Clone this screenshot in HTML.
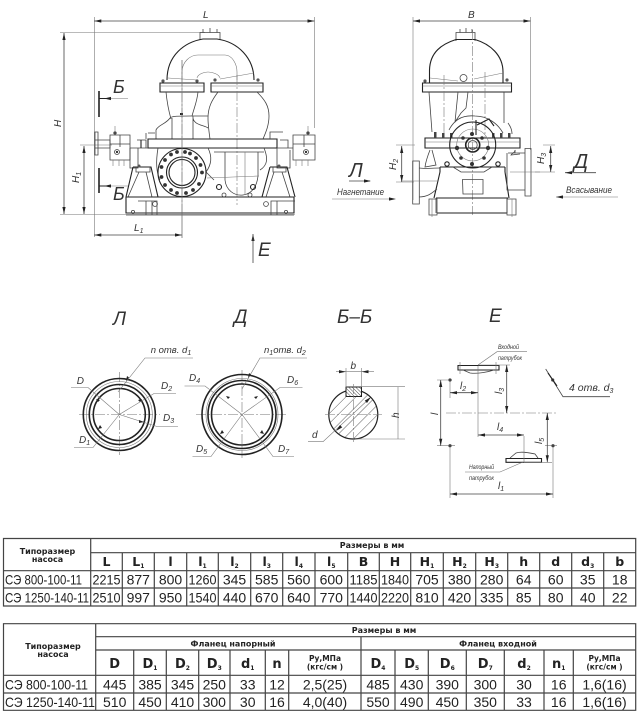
<!DOCTYPE html>
<html><head><meta charset="utf-8"><style>
html,body{margin:0;padding:0;background:#fff;width:640px;height:713px;overflow:hidden}
svg{display:block;position:absolute;left:0;top:0;filter:blur(.3px)}
.t{fill:none;stroke:#777;stroke-width:.6}
.m{fill:none;stroke:#444;stroke-width:.8}
.k{fill:none;stroke:#222;stroke-width:1.1}
.h{fill:none;stroke:#222;stroke-width:1.6}
.c{fill:none;stroke:#777;stroke-width:.6;stroke-dasharray:10 2 2 2}
.a{fill:#222;stroke:none}
text{font-family:"Liberation Sans","Noto Sans CJK SC",sans-serif;fill:#333}
.i{font-style:italic}
.n{font-size:14px;text-anchor:middle;fill:#222}
.b{font-family:"DejaVu Sans","Liberation Sans",sans-serif;font-weight:bold;text-anchor:middle;fill:#222}
.tl{stroke:#444;stroke-width:1.2;fill:none}
</style></head><body>
<svg width="640" height="713" viewBox="0 0 640 713" xmlns="http://www.w3.org/2000/svg">
<defs>
<g id="ah"><path class="a" d="M0 0L7 -1.6L7 1.6Z"/></g>
<g id="bolt"><circle r="1.9" fill="#333"/></g>
<pattern id="hat" width="7" height="7" patternUnits="userSpaceOnUse" patternTransform="rotate(45)"><line x1="0" y1="0" x2="0" y2="7" stroke="#333" stroke-width=".8"/></pattern>
<pattern id="hat2" width="2.5" height="2.5" patternUnits="userSpaceOnUse" patternTransform="rotate(-45)"><line x1="0" y1="0" x2="0" y2="2.5" stroke="#444" stroke-width=".9"/></pattern>
</defs>

<!-- FRONT VIEW dims -->
<path class="t" d="M94.3 17V237M314.5 17V128M60 32.5H205M60 214.5H295M80 145H112M182 205V238"/>
<path class="m" d="M94.3 21H314.5M64 33V214M84 146V214M94.3 235H182"/>
<use href="#ah" x="94.3" y="21"/><use href="#ah" transform="translate(314.5 21) rotate(180)"/>
<use href="#ah" transform="translate(64 33) rotate(90)"/><use href="#ah" transform="translate(64 214) rotate(-90)"/>
<use href="#ah" transform="translate(84 146) rotate(90)"/><use href="#ah" transform="translate(84 214) rotate(-90)"/>
<use href="#ah" x="94.3" y="235"/><use href="#ah" transform="translate(182 235) rotate(180)"/>
<text class="i" x="203" y="18" font-size="10">L</text>
<text class="i" font-size="10" transform="translate(61 127) rotate(-90)">H</text>
<text class="i" font-size="10" transform="translate(79 183) rotate(-90)">H<tspan font-size="7" dy="2">1</tspan></text>
<text class="i" x="134" y="231" font-size="10">L<tspan font-size="7" dy="2">1</tspan></text>

<!-- section marks -->
<path class="h" d="M99 91V117M99 168V193"/>
<path class="k" d="M99 98.5H110M99 186H110"/>
<path class="t" d="M110 98.5H128M110 186H128"/>
<use href="#ah" x="104" y="98.5"/><use href="#ah" x="104" y="186"/>
<text class="i" x="113" y="93" font-size="18" fill="#222">Б</text>
<text class="i" x="113" y="200" font-size="18" fill="#222">Б</text>
<use href="#ah" transform="translate(253 234) rotate(90)"/>
<path class="m" d="M253 234V263"/>
<text class="i" x="258" y="256" font-size="19" fill="#222">Е</text>

<!-- elbow -->
<path class="m" d="M200 40V32.500H220V40M203 32.500V29M210 32.500V28M217 32.500V29"/>
<path class="k" d="M167 80C167 55 185 42 203 39H217C238 42 254 58 254 80"/>
<path class="t" d="M182 80V72C182 62 190 55 198 55H225C232 55 237 64 237 72V80"/>
<path class="t" d="M197 78C198 74 204 72 208 72S219 74 220 78"/>
<path class="t" d="M168 78L197 80M220 79L254 73"/>
<!-- flanges -->
<path class="k" d="M160 83H204V92H160ZM211 83H263V92H211Z"/>
<path class="t" d="M160 86H204M211 86H263"/>
<circle cx="163" cy="81" r="1.6" fill="#555"/><circle cx="197" cy="81" r="1.6" fill="#555"/><circle cx="215" cy="80" r="1.6" fill="#555"/><circle cx="258" cy="80" r="1.6" fill="#555"/>
<path class="c" d="M182 60V205M237 75V205"/>
<!-- necks / bodies -->
<path class="m" d="M166 92C167 102 169 112 171 119M198 92C197 102 194 108 192 116"/>
<path class="m" d="M218 92C212 100 208 107 208 118C208 125 209 132 210 139M257 92C265 100 269 106 269 116C269 125 266 132 263 139"/>
<path class="m" d="M156 139V130C158 125 166 124 170 118C172 116 178 116 190 116H208M172 139V118M193 139V118M193 116C192 125 204 125 208 128"/>
<path class="a" d="M180 115h3v-2h-3z"/>
<!-- casing joint -->
<path class="k" d="M148 139H277V148H148Z"/>
<path class="m" d="M146 133V139M283 132H270V139M148 133H155"/>
<!-- shaft & bearings left -->
<path class="m" d="M110 135H130V160H110ZM110 144H130M120 135V147"/>
<path class="m" d="M95 140H110V148H95ZM95 132H98V155H95Z"/>
<path class="m" d="M130 148H148M130 148V168H131M130 168H138V148"/>
<path class="m" d="M137 140H146V148"/>
<path class="k" d="M141 140V148"/>
<circle cx="117" cy="152" r="2.500" class="m"/><circle cx="117" cy="152" r="1.2" fill="#333"/>
<circle cx="115" cy="133" r="1.6" fill="#333"/>
<path class="t" d="M115 126V135M113 160V166M119 160V166M124 160V166"/>
<!-- right -->
<path class="m" d="M293 135H315V160H293ZM293 144H315M304 135V147"/>
<path class="m" d="M277 148H293M277 148V168H290V150"/>
<path class="m" d="M280 140H288V148"/>
<circle cx="306" cy="152" r="2.500" class="m"/><circle cx="306" cy="152" r="1.2" fill="#333"/>
<circle cx="308" cy="133" r="1.6" fill="#333"/>
<path class="t" d="M308 126V135M296 160V166M302 160V166M308 160V166"/>

<!-- volutes -->
<path class="m" d="M158 148C156 160 156 172 160 180M208 148C212 156 212 164 206 172L214 180"/>
<path class="m" d="M225 152V180C226 190 234 196 243 195C252 194 257 186 258 176V152M264 148C268 158 268 165 260 170M214 152H264"/>
<path class="t" d="M245 152V195M207 178L259 176"/>
<circle cx="219" cy="187" r="2.500" class="k"/><circle cx="253" cy="187" r="2.500" class="k"/><circle cx="224" cy="195" r="2" class="m"/><circle cx="250" cy="195" r="2" class="m"/>
<!-- large flange -->
<circle cx="182" cy="172.500" r="24" class="k" fill="#fff"/>
<circle cx="182" cy="172.500" r="15.500" class="k"/>
<circle cx="182" cy="172.500" r="13" class="k"/>
<g>
<use href="#bolt" x="202" y="172.500"/><use href="#bolt" x="200.500" y="165"/><use href="#bolt" x="196" y="158"/><use href="#bolt" x="190" y="153.500"/><use href="#bolt" x="185" y="152"/><use href="#bolt" x="177" y="152"/><use href="#bolt" x="171" y="154.500"/><use href="#bolt" x="165" y="160"/><use href="#bolt" x="161.500" y="167"/><use href="#bolt" x="161.500" y="177"/><use href="#bolt" x="165" y="185"/><use href="#bolt" x="171" y="190"/><use href="#bolt" x="177" y="193"/><use href="#bolt" x="186" y="193"/><use href="#bolt" x="193" y="190"/><use href="#bolt" x="199" y="184"/>
</g>
<!-- feet -->
<path class="k" d="M133 167H151L158 197M133 167L126 197"/>
<path class="m" d="M136 167V172H150V167M128 197L139 172M152 197L146 172"/>
<path class="k" d="M270 167H287L295 197M270 167L262 197"/>
<path class="m" d="M273 167V172H286V167M266 197L274 172M290 197L282 172"/>
<circle cx="139" cy="166" r="1.500" fill="#555"/><circle cx="279" cy="166" r="1.500" fill="#555"/>
<!-- base -->
<path class="k" d="M126 197H294M126 197V213H294V197"/>
<path class="m" d="M126 215H294"/>
<path class="m" d="M138 201H157V215M146 201V215M152 201V215M295 201H271V215M277 201V215"/>
<circle cx="155" cy="204" r="2.400" class="m"/><circle cx="266" cy="204" r="2.400" class="m"/>
<circle cx="133" cy="212" r="1.600" class="m"/><circle cx="286" cy="212" r="1.600" class="m"/>
<path class="t" d="M182 60V238"/>

<!-- SIDE VIEW -->
<path class="t" d="M413 17V200M530.500 17V150M396 145H415M543 145H555M396 182H414M535 172H555"/>
<path class="m" d="M413 21H530.500M401.700 146V182M550.700 146V172"/>
<use href="#ah" x="413" y="21"/><use href="#ah" transform="translate(530.500 21) rotate(180)"/>
<use href="#ah" transform="translate(401.700 146) rotate(90)"/><use href="#ah" transform="translate(401.700 182) rotate(-90)"/>
<use href="#ah" transform="translate(550.700 146) rotate(90)"/><use href="#ah" transform="translate(550.700 172) rotate(-90)"/>
<text class="i" x="468" y="18" font-size="10">B</text>
<text class="i" font-size="10" transform="translate(396 170) rotate(-90)">H<tspan font-size="7" dy="2">2</tspan></text>
<text class="i" font-size="10" transform="translate(544 164) rotate(-90)">H<tspan font-size="7" dy="2">3</tspan></text>
<path class="m" d="M456 41V32.500H475V41M460 32.500V29M466 32.500V28M472 32.500V29"/>
<path class="k" d="M429.500 83V70C430 52 442 44 456 39.500H475C490 44 503 55 503 72V83"/>
<path class="t" d="M430 78L458 81M474 79L503 73"/>
<circle cx="463.500" cy="78" r="3.500" class="m"/>
<path class="k" d="M422.500 83H511.500V92H422.500Z"/>
<path class="t" d="M422.500 86H511.500"/>
<circle cx="425" cy="81" r="1.600" fill="#555"/><circle cx="507" cy="80" r="1.600" fill="#555"/>
<path class="m" d="M429 92L432 132M504 92V123"/>
<path class="m" d="M458 92L455 122L461 113L466 108L468 92"/>
<path class="c" d="M444 75V138M485 72V138M472.700 30V215"/>
<path class="m" d="M449 130C455 118 465 115 475 116C488 116 498 124 503 133M508 123C511 127 512 130 512 134"/>
<path class="k" d="M425 138H520V148H425Z"/>
<path class="t" d="M425 142H520"/>
<g fill="#444"><rect x="434" y="132" width="2.500" height="6"/><rect x="442" y="133" width="2.500" height="5"/><rect x="450" y="133" width="2.500" height="5"/><rect x="492" y="133" width="2.500" height="5"/><rect x="500" y="133" width="2.500" height="5"/><rect x="508" y="133" width="2.500" height="5"/></g>
<circle cx="472.700" cy="145" r="23" class="k" fill="#fff"/>
<circle cx="472.700" cy="145" r="16" class="t"/>
<circle cx="472.700" cy="145" r="7" class="h"/>
<circle cx="472.700" cy="145" r="4.500" class="m"/>
<path class="k" d="M476 120V135M477 125L489 119L494 126"/>
<g fill="#333"><circle cx="463" cy="138" r="1.800"/><circle cx="482" cy="138" r="1.800"/><circle cx="457" cy="148" r="2.200"/><circle cx="488" cy="148" r="2.200"/><circle cx="461" cy="158" r="1.800"/><circle cx="484" cy="158" r="1.800"/><circle cx="472" cy="134" r="2"/><circle cx="472" cy="164" r="2"/></g>
<path class="m" d="M430 150C428 155 426 160 425 167L436 165L432 150M515 150C516 152 512 153 511 155L520 154"/>
<!-- base -->
<path class="k" d="M440 167H505M440 167V172M505 167V172M440 172L434 198M505 172L509 198M436 198H508M437 213H507"/>
<path class="m" d="M453 167L461 172H484L492 167"/>
<circle cx="447" cy="164" r="2.200" class="k"/><circle cx="498" cy="164" r="2.200" class="k"/>
<path class="m" d="M462.500 179.500H483V194H463Z"/>
<path class="m" d="M436 198V213M507 198V213"/>
<path class="m" d="M429 199H437V215H429ZM507 199H516V215H507Z"/>
<path class="t" d="M432 199V217M512 199V217"/>
<!-- side nozzles -->
<path class="m" d="M412.700 161H419.300V204H412.700ZM525 148.500H531V196H525Z"/>
<path class="m" d="M419 168C425 169 432 168 440 168M419 197C428 197 432 193 437 189M507 153V190H525M508 153H525M515 150V153"/>
<path class="t" d="M402 181H438M510 172H540"/>
<!-- flow labels -->
<text class="i" x="349" y="177" font-size="20" fill="#222">Л</text>
<path class="m" d="M349 181H370"/><use href="#ah" transform="translate(371 181) rotate(180)"/>
<text class="i" x="337" y="195" font-size="9.500" textLength="47" lengthAdjust="spacingAndGlyphs">Нагнетание</text>
<path class="t" d="M332 199H394"/><use href="#ah" transform="translate(396 199) rotate(180)"/>
<text class="i" x="574" y="168" font-size="20" fill="#222">Д</text>
<path class="m" d="M565 172.700H596"/><use href="#ah" x="565" y="172.700"/>
<text class="i" x="566" y="193" font-size="9.500" textLength="46" lengthAdjust="spacingAndGlyphs">Всасывание</text>
<path class="t" d="M556 197H618"/><use href="#ah" x="556" y="197"/>

<!-- VIEW TITLES -->
<text class="i" x="113" y="325" font-size="19" fill="#222">Л</text>
<text class="i" x="234" y="323" font-size="19" fill="#222">Д</text>
<text class="i" x="337" y="323" font-size="19" fill="#222">Б–Б</text>
<text class="i" x="489" y="322" font-size="19" fill="#222">Е</text>

<!-- CIRCLE L -->
<path class="c" d="M79 414.500H160M119.300 372V455"/>
<circle cx="119.300" cy="414.500" r="36" class="h"/>
<circle cx="119.300" cy="414.500" r="33" class="t"/>
<circle cx="119.300" cy="414.500" r="30" class="h"/>
<circle cx="119.300" cy="414.500" r="26" class="h"/>
<path class="t" d="M118 392L145 358H193M71 387.500H88L119.300 414.500M119.300 414.500L154 393.500H176M119.300 414.500L157 426.500H178M74 447.500H93L119.300 414.500"/>
<g fill="#222"><path d="M126 381l1-5 2 1.500z"/><path d="M96 399l4 1-2 2z"/><path d="M142 399l-4 1 2 2z"/><path d="M144 422l-5-2 0 3z"/><path d="M98 429l4-1-2-3z"/></g>
<text class="i" x="150.700" y="353" font-size="9.500">n отв. d<tspan font-size="7" dy="2">1</tspan></text>
<text class="i" x="76.700" y="384" font-size="10">D</text>
<text class="i" x="161" y="389" font-size="10">D<tspan font-size="7" dy="2">2</tspan></text>
<text class="i" x="163" y="421" font-size="10">D<tspan font-size="7" dy="2">3</tspan></text>
<text class="i" x="79" y="443" font-size="10">D<tspan font-size="7" dy="2">1</tspan></text>

<!-- CIRCLE D -->
<path class="c" d="M196 414.500H288M242 370V458"/>
<circle cx="242" cy="414.500" r="40" class="h"/>
<circle cx="242" cy="414.500" r="36" class="t"/>
<circle cx="242" cy="414.500" r="34" class="h"/>
<circle cx="242" cy="414.500" r="30.500" class="h"/>
<path class="t" d="M242 389L260 358H307M184.500 386H205L242 414.500M242 414.500L280 387.500H302.500M192.500 456.500H211L242 414.500M242 414.500L273 456.500H294"/>
<g fill="#222"><path d="M248 378l1-5 2 1.500z"/><path d="M226 396l4 1-2 2z"/><path d="M258 396l-4 1 2 2z"/><path d="M220 434l4-1-2-3z"/><path d="M264 434l-4-1 2-3z"/></g>
<text class="i" x="264" y="353" font-size="9.500">n<tspan font-size="7" dy="2">1</tspan><tspan dy="-2">отв. d</tspan><tspan font-size="7" dy="2">2</tspan></text>
<text class="i" x="189" y="381" font-size="10">D<tspan font-size="7" dy="2">4</tspan></text>
<text class="i" x="287" y="383" font-size="10">D<tspan font-size="7" dy="2">6</tspan></text>
<text class="i" x="196" y="452" font-size="10">D<tspan font-size="7" dy="2">5</tspan></text>
<text class="i" x="278" y="452" font-size="10">D<tspan font-size="7" dy="2">7</tspan></text>

<!-- B-B -->
<circle cx="353.300" cy="414.500" r="24.500" fill="url(#hat)" stroke="#222" stroke-width="1.200"/>
<rect x="346" y="387" width="15.500" height="9.500" fill="#fff"/>
<rect x="346" y="387" width="15.500" height="9.500" fill="url(#hat2)" stroke="#222" stroke-width="1"/>
<path class="c" d="M325 414.500H382M353.300 384V443"/>
<path class="t" d="M346 368V387M361.500 368V387M361.500 386.700H405M355 439H405M336 371.700H374"/>
<path class="t" d="M398 387V439M308 441.700H323L370 398"/>
<use href="#ah" x="361.500" y="371.700"/><use href="#ah" transform="translate(346 371.700) rotate(180)"/>
<use href="#ah" transform="translate(371 397) rotate(137)"/><use href="#ah" transform="translate(336 431) rotate(-43)"/>
<text class="i" x="350.500" y="369" font-size="10">b</text>
<text class="i" font-size="10" transform="translate(399 418) rotate(-90)">h</text>
<text class="i" x="312" y="438" font-size="10">d</text>

<!-- E plan -->
<path class="k" d="M458 365.500H499V370H458Z"/>
<path class="m" d="M463 370L470 373C478 374 488 372 494 370"/>
<path class="t" d="M460 362V374M496 362V374"/>
<path class="k" d="M506 458.500H541.500V462.300H506Z"/>
<path class="m" d="M510 458L516 453C522 451 530 453 535 454L538 458"/>
<path class="c" d="M446 413H557"/>
<path class="t" d="M478 366V437M524 436V463M450 380V398M450 446V498M553 446V498M437 380H452M437 445.700H455M478 365H510M524 462.300H552M545 445.700H557"/>
<path class="m" d="M440.700 380V445.700M450 392.700H478M506.700 365V413M478 435H524M547.300 413V462.300M450 494H553"/>
<use href="#ah" transform="translate(440.700 380) rotate(90)"/><use href="#ah" transform="translate(440.700 445.700) rotate(-90)"/>
<use href="#ah" x="450" y="392.700"/><use href="#ah" transform="translate(478 392.700) rotate(180)"/>
<use href="#ah" transform="translate(506.700 365) rotate(90)"/><use href="#ah" transform="translate(506.700 413) rotate(-90)"/>
<use href="#ah" x="478" y="435"/><use href="#ah" transform="translate(524 435) rotate(180)"/>
<use href="#ah" transform="translate(547.300 413) rotate(90)"/><use href="#ah" transform="translate(547.300 462.300) rotate(-90)"/>
<use href="#ah" x="450" y="494"/><use href="#ah" transform="translate(553 494) rotate(180)"/>
<circle cx="450" cy="380" r="1.600" fill="#444"/><circle cx="450" cy="445.700" r="1.600" fill="#444"/><circle cx="553" cy="445.700" r="1.600" fill="#444"/><circle cx="552.700" cy="380" r="1.600" fill="#444"/>
<path class="t" d="M478 365L497 351.700H527M465 472H500L523 462"/>
<path class="m" d="M545.700 369L563 396.700H610"/>
<path class="k" d="M548 373L557 386"/>
<text class="i" x="498" y="349" font-size="6.500" textLength="21" lengthAdjust="spacingAndGlyphs">Входной</text>
<text class="i" x="498" y="360" font-size="6.500" textLength="24" lengthAdjust="spacingAndGlyphs">патрубок</text>
<text class="i" x="469" y="469" font-size="6.500" textLength="25" lengthAdjust="spacingAndGlyphs">Напорный</text>
<text class="i" x="469" y="480" font-size="6.500" textLength="25" lengthAdjust="spacingAndGlyphs">патрубок</text>
<text class="i" font-size="10" transform="translate(438 415) rotate(-90)">l</text>
<text class="i" x="460" y="389" font-size="10">l<tspan font-size="7" dy="2">2</tspan></text>
<text class="i" font-size="10" transform="translate(502 394) rotate(-90)">l<tspan font-size="7" dy="2">3</tspan></text>
<text class="i" x="497" y="430" font-size="10">l<tspan font-size="7" dy="2">4</tspan></text>
<text class="i" font-size="10" transform="translate(542 444) rotate(-90)">l<tspan font-size="7" dy="2">5</tspan></text>
<text class="i" x="498" y="489" font-size="10">l<tspan font-size="7" dy="2">1</tspan></text>
<text class="i" x="569" y="391" font-size="10.500">4 отв. d<tspan font-size="7" dy="2">3</tspan></text>

<!-- TABLE 1 -->
<path class="tl" d="M3.500 538.500H635.700V606H3.500ZM90.700 552.700H635.700M3.500 570.700H635.700M3.500 588H635.700M90.700 538.500V606"/>
<path class="tl" d="M122.300 552.700V606M154.300 552.700V606M186.700 552.700V606M218.300 552.700V606M250.700 552.700V606M282.700 552.700V606M315 552.700V606M347.700 552.700V606M379.300 552.700V606M410.700 552.700V606M443.300 552.700V606M475.700 552.700V606M507.700 552.700V606M539.700 552.700V606M571.700 552.700V606M603.700 552.700V606"/>
<text class="b" x="47.500" y="554" font-size="8">Типоразмер</text>
<text class="b" x="47.500" y="562" font-size="8">насоса</text>
<text class="b" x="372" y="548" font-size="8">Размеры в мм</text>
<g>
<text class="b" x="106.500" y="566" font-size="12.500">L</text>
<text class="b" x="138.300" y="566" font-size="12.500">L<tspan font-size="6" dy="2">1</tspan></text>
<text class="b" x="170.500" y="566" font-size="12.500">l</text>
<text class="b" x="202.500" y="566" font-size="12.500">l<tspan font-size="6" dy="2">1</tspan></text>
<text class="b" x="234.500" y="566" font-size="12.500">l<tspan font-size="6" dy="2">2</tspan></text>
<text class="b" x="266.700" y="566" font-size="12.500">l<tspan font-size="6" dy="2">3</tspan></text>
<text class="b" x="298.800" y="566" font-size="12.500">l<tspan font-size="6" dy="2">4</tspan></text>
<text class="b" x="331.300" y="566" font-size="12.500">l<tspan font-size="6" dy="2">5</tspan></text>
<text class="b" x="363.500" y="566" font-size="12.500">B</text>
<text class="b" x="395" y="566" font-size="12.500">H</text>
<text class="b" x="427" y="566" font-size="12.500">H<tspan font-size="6" dy="2">1</tspan></text>
<text class="b" x="459.500" y="566" font-size="12.500">H<tspan font-size="6" dy="2">2</tspan></text>
<text class="b" x="491.700" y="566" font-size="12.500">H<tspan font-size="6" dy="2">3</tspan></text>
<text class="b" x="523.700" y="566" font-size="12.500">h</text>
<text class="b" x="555.700" y="566" font-size="12.500">d</text>
<text class="b" x="587.700" y="566" font-size="12.500">d<tspan font-size="6" dy="2">3</tspan></text>
<text class="b" x="619.700" y="566" font-size="12.500">b</text>
</g>
<text class="n" x="5" y="584.500" style="text-anchor:start" textLength="77" lengthAdjust="spacingAndGlyphs">СЭ 800-100-11</text>
<text class="n" x="5" y="602.500" style="text-anchor:start" textLength="84" lengthAdjust="spacingAndGlyphs">СЭ 1250-140-11</text>
<g>
<text class="n" x="106.500" y="584.500" textLength="28" lengthAdjust="spacingAndGlyphs">2215</text><text class="n" x="138.300" y="584.500">877</text><text class="n" x="170.500" y="584.500">800</text><text class="n" x="202.500" y="584.500" textLength="28" lengthAdjust="spacingAndGlyphs">1260</text><text class="n" x="234.500" y="584.500">345</text><text class="n" x="266.700" y="584.500">585</text><text class="n" x="298.800" y="584.500">560</text><text class="n" x="331.300" y="584.500">600</text><text class="n" x="363.500" y="584.500" textLength="28" lengthAdjust="spacingAndGlyphs">1185</text><text class="n" x="395" y="584.500" textLength="28" lengthAdjust="spacingAndGlyphs">1840</text><text class="n" x="427" y="584.500">705</text><text class="n" x="459.500" y="584.500">380</text><text class="n" x="491.700" y="584.500">280</text><text class="n" x="523.700" y="584.500">64</text><text class="n" x="555.700" y="584.500">60</text><text class="n" x="587.700" y="584.500">35</text><text class="n" x="619.700" y="584.500">18</text>
<text class="n" x="106.500" y="602.500" textLength="28" lengthAdjust="spacingAndGlyphs">2510</text><text class="n" x="138.300" y="602.500">997</text><text class="n" x="170.500" y="602.500">950</text><text class="n" x="202.500" y="602.500" textLength="28" lengthAdjust="spacingAndGlyphs">1540</text><text class="n" x="234.500" y="602.500">440</text><text class="n" x="266.700" y="602.500">670</text><text class="n" x="298.800" y="602.500">640</text><text class="n" x="331.300" y="602.500">770</text><text class="n" x="363.500" y="602.500" textLength="28" lengthAdjust="spacingAndGlyphs">1440</text><text class="n" x="395" y="602.500" textLength="28" lengthAdjust="spacingAndGlyphs">2220</text><text class="n" x="427" y="602.500">810</text><text class="n" x="459.500" y="602.500">420</text><text class="n" x="491.700" y="602.500">335</text><text class="n" x="523.700" y="602.500">85</text><text class="n" x="555.700" y="602.500">80</text><text class="n" x="587.700" y="602.500">40</text><text class="n" x="619.700" y="602.500">22</text>
</g>

<!-- TABLE 2 -->
<path class="tl" d="M3.500 623.700H635.700V710.300H3.500ZM95.700 636.700H635.700M95.700 650H635.700M3.500 675.300H635.700M3.500 693H635.700M95.700 623.700V710.300M361 636.700V710.300"/>
<path class="tl" d="M133.700 650V710.300M166.300 650V710.300M198.700 650V710.300M230 650V710.300M265.300 650V710.300M288.700 650V710.300M395 650V710.300M428.300 650V710.300M466.300 650V710.300M504.300 650V710.300M544 650V710.300M573.300 650V710.300"/>
<text class="b" x="53" y="649" font-size="8">Типоразмер</text>
<text class="b" x="53" y="657" font-size="8">насоса</text>
<text class="b" x="384" y="633" font-size="8">Размеры в мм</text>
<text class="b" x="233" y="646.500" font-size="8">Фланец напорный</text>
<text class="b" x="498" y="646.500" font-size="8">Фланец входной</text>
<text class="b" x="114.700" y="668" font-size="13">D</text>
<text class="b" x="150" y="668" font-size="13">D<tspan font-size="6" dy="2">1</tspan></text>
<text class="b" x="182.500" y="668" font-size="13">D<tspan font-size="6" dy="2">2</tspan></text>
<text class="b" x="214.300" y="668" font-size="13">D<tspan font-size="6" dy="2">3</tspan></text>
<text class="b" x="247.700" y="668" font-size="13">d<tspan font-size="6" dy="2">1</tspan></text>
<text class="b" x="277" y="668" font-size="13">n</text>
<text class="b" x="325" y="661" font-size="7.500">Ру,МПа</text>
<text class="b" x="325" y="669.500" font-size="7.500">(кгс/см )</text>
<text class="b" x="378" y="668" font-size="13">D<tspan font-size="6" dy="2">4</tspan></text>
<text class="b" x="411.700" y="668" font-size="13">D<tspan font-size="6" dy="2">5</tspan></text>
<text class="b" x="447.300" y="668" font-size="13">D<tspan font-size="6" dy="2">6</tspan></text>
<text class="b" x="485.300" y="668" font-size="13">D<tspan font-size="6" dy="2">7</tspan></text>
<text class="b" x="524" y="668" font-size="13">d<tspan font-size="6" dy="2">2</tspan></text>
<text class="b" x="558.700" y="668" font-size="13">n<tspan font-size="6" dy="2">1</tspan></text>
<text class="b" x="604.500" y="661" font-size="7.500">Ру,МПа</text>
<text class="b" x="604.500" y="669.500" font-size="7.500">(кгс/см )</text>
<text class="n" x="5" y="689.500" style="text-anchor:start" textLength="83" lengthAdjust="spacingAndGlyphs">СЭ 800-100-11</text>
<text class="n" x="5" y="707" style="text-anchor:start" textLength="90" lengthAdjust="spacingAndGlyphs">СЭ 1250-140-11</text>
<g>
<text class="n" x="114.700" y="689.500">445</text><text class="n" x="150" y="689.500">385</text><text class="n" x="182.500" y="689.500">345</text><text class="n" x="214.300" y="689.500">250</text><text class="n" x="247.700" y="689.500">33</text><text class="n" x="277" y="689.500">12</text><text class="n" x="325" y="689.500">2,5(25)</text><text class="n" x="378" y="689.500">485</text><text class="n" x="411.700" y="689.500">430</text><text class="n" x="447.300" y="689.500">390</text><text class="n" x="485.300" y="689.500">300</text><text class="n" x="524" y="689.500">30</text><text class="n" x="558.700" y="689.500">16</text><text class="n" x="604.500" y="689.500">1,6(16)</text>
<text class="n" x="114.700" y="707">510</text><text class="n" x="150" y="707">450</text><text class="n" x="182.500" y="707">410</text><text class="n" x="214.300" y="707">300</text><text class="n" x="247.700" y="707">30</text><text class="n" x="277" y="707">16</text><text class="n" x="325" y="707">4,0(40)</text><text class="n" x="378" y="707">550</text><text class="n" x="411.700" y="707">490</text><text class="n" x="447.300" y="707">450</text><text class="n" x="485.300" y="707">350</text><text class="n" x="524" y="707">33</text><text class="n" x="558.700" y="707">16</text><text class="n" x="604.500" y="707">1,6(16)</text>
</g>
</svg>
</body></html>
